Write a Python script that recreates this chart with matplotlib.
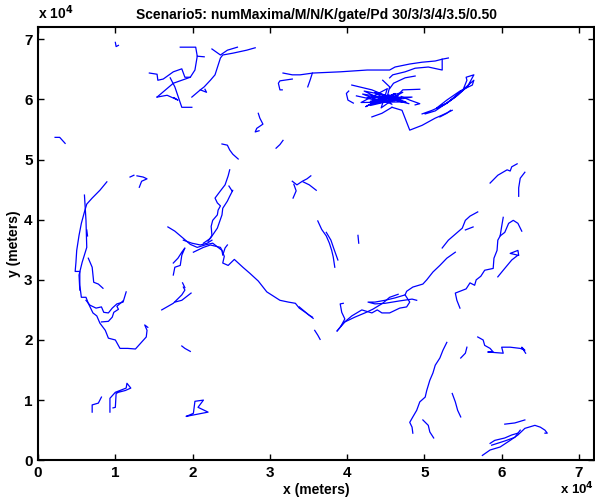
import matplotlib
matplotlib.use("Agg")
import matplotlib.pyplot as plt
from matplotlib.ticker import FuncFormatter

# track positions, units of 1e4 m (x, y)
tracks_top_left = [
    [(1.00, 6.95), (1.01, 6.88), (1.04, 6.90)],
    [(1.84, 6.87), (2.04, 6.87), (2.06, 6.72), (2.15, 6.71)],
    [(1.44, 6.44), (1.54, 6.42), (1.55, 6.32), (1.62, 6.34), (1.75, 6.46), (1.86, 6.51),
     (1.90, 6.37), (1.97, 6.37), (2.03, 6.49), (2.06, 6.72)],
    [(1.54, 6.04), (1.75, 6.27), (1.97, 6.37)],
    [(1.54, 6.04), (1.67, 6.07), (1.81, 5.99), (1.76, 6.03)],
    [(1.71, 6.36), (1.77, 6.21), (1.86, 5.87), (1.99, 5.87)],
    [(1.99, 6.04), (2.10, 6.16), (2.15, 6.21), (2.23, 6.32), (2.29, 6.41), (2.36, 6.69),
     (2.39, 6.74), (2.52, 6.77), (2.70, 6.82), (2.81, 6.86)],
    [(2.25, 6.84), (2.36, 6.74), (2.45, 6.82), (2.58, 6.87)],
    [(2.10, 6.16), (2.18, 6.12), (2.16, 6.17)],
    [(0.22, 5.37), (0.28, 5.37), (0.35, 5.27)],
    [(2.38, 5.26), (2.45, 5.24), (2.48, 5.16), (2.52, 5.09), (2.59, 5.01)],
    [(2.85, 5.77), (2.87, 5.69), (2.91, 5.59), (2.83, 5.52), (2.81, 5.46), (2.86, 5.48)],
    [(3.08, 5.19), (3.13, 5.25), (3.17, 5.32)],
    [(1.19, 4.71), (1.24, 4.74)],
    [(1.28, 4.73), (1.36, 4.71), (1.41, 4.68), (1.34, 4.64), (1.31, 4.54)],
]

tracks_left_arc = [
    [(0.89, 4.63), (0.80, 4.49), (0.70, 4.36), (0.63, 4.26), (0.60, 4.13), (0.56, 3.94),
     (0.53, 3.74), (0.50, 3.49), (0.49, 3.29), (0.48, 3.14), (0.54, 3.14), (0.54, 2.91),
     (0.56, 2.71), (0.62, 2.71), (0.65, 2.61), (0.71, 2.45), (0.76, 2.40), (0.80, 2.28),
     (0.87, 2.16), (0.91, 2.03), (1.00, 2.00), (1.06, 1.86), (1.16, 1.86), (1.26, 1.85),
     (1.33, 1.95), (1.40, 2.05), (1.41, 2.16), (1.38, 2.25), (1.42, 2.21)],
    [(0.60, 4.41), (0.62, 3.99), (0.63, 3.54), (0.57, 3.29), (0.53, 3.08), (0.54, 2.83)],
    [(0.62, 2.66), (0.67, 2.58), (0.75, 2.53), (0.82, 2.55), (0.85, 2.46), (0.91, 2.45),
     (0.96, 2.53), (1.02, 2.60), (1.10, 2.63), (1.14, 2.80)],
    [(0.82, 2.30), (0.91, 2.31), (0.96, 2.38), (0.98, 2.46), (1.04, 2.51), (1.02, 2.56),
     (1.10, 2.65)],
    [(0.65, 3.36), (0.70, 3.21), (0.72, 2.96), (0.78, 2.93), (0.84, 2.86)],
    [(0.63, 3.83), (0.64, 3.73)],
    [(0.70, 0.80), (0.70, 0.92), (0.78, 0.95), (0.82, 1.05)],
    [(0.93, 0.80), (0.93, 1.03), (1.00, 1.13), (1.06, 1.16), (1.14, 1.20), (1.15, 1.28),
     (1.20, 1.20), (1.13, 1.16), (1.04, 1.13), (1.01, 1.11), (1.00, 0.88), (0.97, 0.87)],
]

tracks_center = [
    [(1.92, 0.73), (2.01, 0.78), (2.03, 0.98), (2.14, 1.00), (2.07, 0.88), (2.20, 0.80),
     (1.92, 0.73)],
    [(1.86, 1.90), (1.90, 1.86), (1.97, 1.81)],
    [(1.60, 2.50), (1.75, 2.61), (1.86, 2.75), (1.90, 2.83), (1.88, 2.88)],
    [(1.77, 2.63), (1.86, 2.66), (1.98, 2.78)],
    [(1.87, 2.95), (1.90, 2.87)],
    [(1.68, 3.88), (1.77, 3.81), (1.88, 3.69), (1.97, 3.59), (2.06, 3.54), (2.16, 3.58),
     (2.26, 3.61), (2.33, 3.54), (2.38, 3.49), (2.41, 3.39), (2.39, 3.28), (2.46, 3.24),
     (2.54, 3.34), (2.65, 3.21), (2.74, 3.11), (2.85, 2.98), (2.96, 2.80), (3.13, 2.66),
     (3.24, 2.63), (3.33, 2.61), (3.38, 2.53), (3.47, 2.45), (3.56, 2.36)],
    [(3.38, 2.55), (3.50, 2.42), (3.55, 2.38)],
    [(1.88, 3.66), (1.99, 3.61), (2.10, 3.58), (2.19, 3.61), (2.25, 3.66)],
    [(2.01, 3.46), (2.14, 3.54), (2.23, 3.58), (2.36, 3.54), (2.38, 3.49), (2.39, 3.41),
     (2.42, 3.53), (2.45, 3.58)],
    [(1.75, 3.28), (1.81, 3.36), (1.86, 3.46), (1.90, 3.53), (1.86, 3.41), (1.84, 3.24),
     (1.77, 3.21), (1.75, 3.08)],
    [(2.48, 4.83), (2.46, 4.73), (2.42, 4.58), (2.36, 4.48), (2.29, 4.36), (2.32, 4.28),
     (2.36, 4.23), (2.33, 4.16), (2.32, 4.08), (2.26, 3.99), (2.24, 3.89), (2.25, 3.74),
     (2.20, 3.64)],
    [(2.47, 4.56), (2.51, 4.48), (2.52, 4.49), (2.48, 4.39), (2.45, 4.31), (2.39, 4.19),
     (2.38, 4.08), (2.32, 3.86), (2.23, 3.69), (2.14, 3.61)],
    [(3.29, 4.64), (3.35, 4.58), (3.42, 4.64), (3.48, 4.68), (3.53, 4.73)],
    [(3.43, 4.63), (3.51, 4.58), (3.60, 4.49)],
    [(3.31, 4.59), (3.34, 4.48), (3.30, 4.36)],
    [(3.62, 3.98), (3.67, 3.84), (3.73, 3.73), (3.77, 3.61), (3.80, 3.49), (3.82, 3.38),
     (3.84, 3.21)],
    [(3.73, 3.79), (3.79, 3.66), (3.83, 3.51), (3.88, 3.33)],
    [(4.14, 3.74), (4.15, 3.61)],
    [(3.58, 2.16), (3.62, 2.08), (3.65, 2.01)],
]

tracks_top_right = [
    [(3.17, 6.44), (3.29, 6.41), (3.39, 6.41), (3.56, 6.44), (3.91, 6.46), (4.26, 6.49),
     (4.55, 6.49), (4.62, 6.54), (4.81, 6.59), (4.97, 6.62), (5.14, 6.64), (5.23, 6.67),
     (5.31, 6.69)],
    [(5.23, 6.67), (5.23, 6.49), (5.05, 6.54), (4.88, 6.52), (4.75, 6.46), (4.59, 6.41),
     (4.55, 6.36)],
    [(3.55, 6.44), (3.52, 6.32), (3.49, 6.21)],
    [(3.29, 6.34), (3.13, 6.31), (3.11, 6.27), (3.13, 6.16), (3.16, 6.16)],
    [(4.02, 6.14), (3.99, 6.10), (4.01, 5.99), (4.08, 5.94)],
    [(4.06, 6.24), (4.32, 6.16), (4.49, 6.07)],
    [(4.46, 6.32), (4.55, 6.21), (4.52, 6.05)],
    [(4.55, 6.18), (4.60, 6.27), (4.75, 6.36), (4.88, 6.39)],
    [(4.66, 6.08), (4.72, 6.16), (4.94, 6.17)],
    [(4.70, 6.05), (4.81, 5.99), (4.94, 5.93), (4.88, 5.91)],
    [(4.32, 5.71), (4.45, 5.77), (4.58, 5.87)],
    [(4.58, 5.87), (4.71, 5.82), (4.81, 5.49), (4.97, 5.57), (5.14, 5.69), (5.23, 5.74),
     (5.36, 5.82)],
    # scribble near (4.5, 6.0)
    [(4.12, 6.06), (4.40, 5.98), (4.62, 6.10), (4.30, 5.90), (4.70, 6.02), (4.22, 6.14),
     (4.58, 5.92), (4.36, 6.12), (4.76, 5.96), (4.18, 5.95), (4.52, 6.18), (4.44, 5.86),
     (4.66, 6.06), (4.26, 6.03), (4.84, 6.04), (4.34, 5.93), (4.56, 6.02), (4.20, 6.09),
     (4.48, 5.95), (4.72, 6.12), (4.30, 5.97), (4.62, 5.98), (4.40, 6.10), (4.80, 5.93),
     (4.46, 6.04), (4.24, 5.88), (4.54, 6.08)],
    [(4.97, 5.76), (5.10, 5.82), (5.27, 5.92), (5.40, 6.04), (5.50, 6.16), (5.55, 6.32),
     (5.54, 6.37), (5.64, 6.41), (5.56, 6.22), (5.43, 6.07), (5.29, 5.94), (5.16, 5.86),
     (5.29, 5.99), (5.46, 6.14), (5.62, 6.24), (5.64, 6.32), (5.46, 6.12), (5.31, 5.96),
     (5.14, 5.81), (5.01, 5.76)],
    [(5.20, 5.71), (5.29, 5.77), (5.34, 5.82)],
]

tracks_right = [
    [(5.85, 4.61), (5.95, 4.74), (6.07, 4.83), (6.11, 4.81), (6.13, 4.88), (6.20, 4.93)],
    [(6.30, 4.79), (6.24, 4.69), (6.22, 4.53), (6.22, 4.39)],
    [(6.02, 4.04), (6.00, 3.89), (5.98, 3.73), (5.95, 3.66), (5.94, 3.49), (5.90, 3.36),
     (5.89, 3.19), (5.78, 3.16), (5.73, 3.06), (5.67, 3.00), (5.65, 2.91), (5.59, 2.95),
     (5.54, 2.85), (5.40, 2.78), (5.42, 2.66), (5.46, 2.53)],
    [(5.98, 3.73), (6.04, 3.79), (6.09, 3.94), (6.15, 3.99), (6.21, 3.94), (6.26, 3.81)],
    [(5.95, 3.05), (6.02, 3.16), (6.13, 3.33), (6.21, 3.41), (6.11, 3.44), (6.21, 3.49),
     (6.22, 3.41)],
    [(5.23, 3.53), (5.31, 3.66), (5.40, 3.76), (5.49, 3.86), (5.53, 3.99), (5.59, 4.06),
     (5.69, 4.13)],
    [(5.53, 3.83), (5.63, 3.88)],
    [(5.40, 3.46), (5.29, 3.36), (5.20, 3.24), (5.11, 3.13), (5.03, 3.00), (4.98, 2.93),
     (4.85, 2.88), (4.77, 2.81), (4.75, 2.75), (4.62, 2.70), (4.49, 2.66), (4.36, 2.63),
     (4.27, 2.63), (4.36, 2.60), (4.49, 2.61), (4.68, 2.65), (4.84, 2.68), (4.90, 2.66)],
    [(4.75, 2.75), (4.81, 2.63), (4.77, 2.55), (4.68, 2.53), (4.55, 2.45), (4.45, 2.45),
     (4.39, 2.50), (4.32, 2.45), (4.19, 2.50), (4.06, 2.40), (3.95, 2.28), (3.87, 2.15)],
    [(3.87, 2.15), (3.97, 2.30), (4.10, 2.38), (4.23, 2.45), (4.33, 2.51), (4.46, 2.61),
     (4.55, 2.71), (4.66, 2.76)],
    [(3.95, 2.61), (3.91, 2.60), (3.93, 2.46), (3.97, 2.35), (3.92, 2.23)],
    [(5.29, 1.96), (5.24, 1.83), (5.20, 1.70), (5.14, 1.58), (5.11, 1.45), (5.07, 1.33),
     (5.03, 1.16), (5.01, 1.05), (4.94, 0.97), (4.90, 0.83), (4.85, 0.72), (4.81, 0.63),
     (4.84, 0.55), (4.85, 0.45)],
    [(4.98, 0.67), (5.05, 0.58), (5.07, 0.47), (5.12, 0.37)],
    [(5.36, 1.11), (5.40, 0.97), (5.43, 0.83), (5.47, 0.72)],
    [(5.55, 1.88), (5.53, 1.78), (5.47, 1.70)],
    [(5.69, 2.05), (5.76, 2.00), (5.78, 1.91), (5.85, 1.86), (5.89, 1.80), (5.82, 1.80),
     (6.02, 1.78), (6.00, 1.88), (6.11, 1.88), (6.24, 1.86), (6.30, 1.83), (6.26, 1.88),
     (6.31, 1.78)],
    [(6.04, 0.60), (6.17, 0.62), (6.30, 0.67)],
    [(5.75, 0.08), (5.85, 0.17), (5.98, 0.22), (6.11, 0.33), (6.21, 0.42), (6.30, 0.53),
     (6.43, 0.58), (6.50, 0.55), (6.56, 0.50), (6.59, 0.45), (6.56, 0.45)],
    [(5.85, 0.28), (5.91, 0.33), (6.04, 0.37), (6.13, 0.42), (6.21, 0.45)],
    [(5.87, 0.25), (6.04, 0.32), (6.17, 0.38), (6.24, 0.50)],
]

SCALE = 1e4
TITLE = "Scenario5: numMaxima/M/N/K/gate/Pd 30/3/3/4/3.5/0.50"

plt.rcParams['font.family'] = ['Liberation Sans', 'DejaVu Sans']
plt.rcParams['font.weight'] = 'bold'

fig = plt.figure(figsize=(5.95, 4.97), dpi=100)
ax = fig.add_axes([0.064, 0.074, 0.935, 0.871])

for group in (tracks_top_left, tracks_left_arc, tracks_center, tracks_top_right, tracks_right):
    for tr in group:
        xs = [p[0] * SCALE for p in tr]
        ys = [p[1] * SCALE for p in tr]
        ax.plot(xs, ys, color='#0000ff', linewidth=0.9)

ax.set_xlim(0, 7.2 * SCALE)
ax.set_ylim(0, 7.2 * SCALE)
ax.set_xticks([k * SCALE for k in range(8)])
ax.set_yticks([k * SCALE for k in range(8)])
fmt = FuncFormatter(lambda v, pos: f"{v / SCALE:g}")
ax.xaxis.set_major_formatter(fmt)
ax.yaxis.set_major_formatter(fmt)
ax.tick_params(direction='in', length=4, width=1, top=True, right=True,
               labelsize=11, pad=4)
for lbl in ax.get_xticklabels() + ax.get_yticklabels():
    lbl.set_fontweight('bold')
for s in ax.spines.values():
    s.set_linewidth(1.5)

ax.set_title(TITLE, fontsize=10, fontweight='bold', pad=6)
ax.set_xlabel('x (meters)', fontsize=10, fontweight='bold', labelpad=2)
ax.set_ylabel('y (meters)', fontsize=10, fontweight='bold', labelpad=2)

# offset labels like the original figure
ax.text(0.0, 1.012, r'x 10$^{4}$', transform=ax.transAxes, fontsize=10,
        fontweight='bold', ha='left', va='bottom')
fig.text(0.998, 0.006, r'x 10$^{4}$', fontsize=9.5, fontweight='bold',
         ha='right', va='baseline')

fig.savefig('out.png', dpi=100)
